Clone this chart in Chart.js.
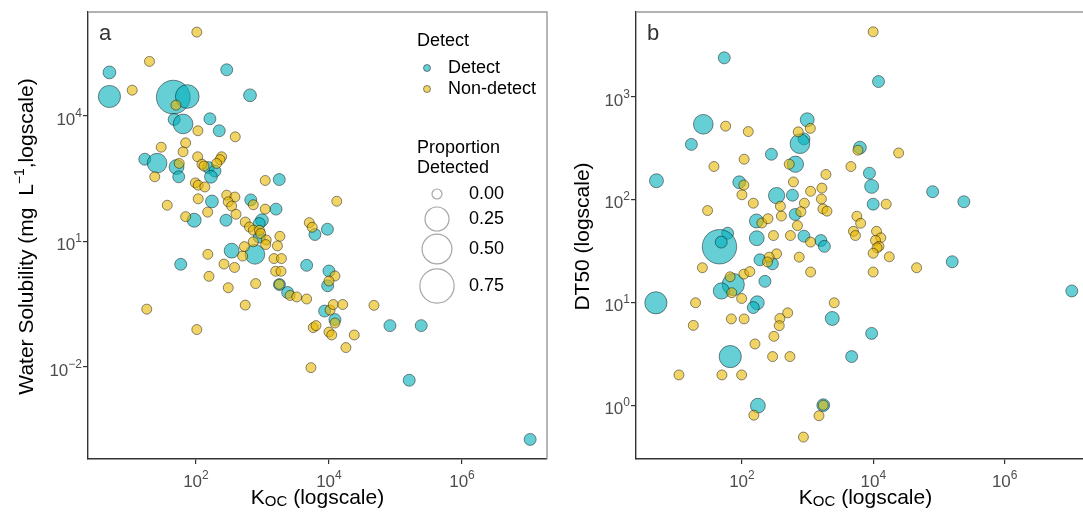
<!DOCTYPE html>
<html>
<head>
<meta charset="utf-8">
<script src="https://cdn.jsdelivr.net/npm/chart.js@4.4.1/dist/chart.umd.min.js"></script>
<style>
  html, body { margin: 0; padding: 0; background: #fff; overflow: hidden; width: 1083px; height: 517px; }
  #chartA { position: absolute; left: 0; top: 0; }
  #chartB { position: absolute; left: 560px; top: 0; }
</style>
</head>
<body>
<canvas id="chartA" width="560" height="517"></canvas>
<canvas id="chartB" width="540" height="517"></canvas>
<script>
// ---- panel a : Koc vs water solubility ----
const kocA_det  = [5.0, 290, 5.0, 45.6, 74, 650, 47, 64, 162, 224, 17, 26, 51, 55, 154, 193, 168, 1790, 174, 667, 1600,
                   94, 283, 982, 895, 895, 344, 771, 59, 1800, 2390, 4620, 10000, 9550, 8600, 12300, 82600, 244000,
                   161000, 10600000, 6150, 9480];
const wsA_det   = [109000, 126000, 29000, 28000, 29000, 31000, 8200, 6400, 8500, 4400, 920, 740, 600, 350, 580, 480, 350,
                   300, 90, 98, 59, 32, 32, 32, 26.7, 12.7, 6.0, 4.9, 2.83, 0.93, 0.60, 2.68, 1.96, 0.87, 0.216, 0.135,
                   0.097, 0.097, 0.0048, 0.000185, 14.6, 19.5];
const propA_det = [0.01, 0.005, 0.19, 0.72, 0.24, 0.01, 0.005, 0.12, 0.005, 0.005, 0.005, 0.12, 0.03, 0.005, 0.005, 0.005,
                   0.01, 0.005, 0.01, 0.005, 0.005, 0.02, 0.005, 0.01, 0.005, 0.005, 0.03, 0.12, 0.005, 0.005, 0.005,
                   0.005, 0.005, 0.005, 0.005, 0.005, 0.005, 0.005, 0.005, 0.005, 0.005, 0.005];
const kocA_non  = [103, 20, 11, 50, 107, 390, 70, 30, 64, 106, 123, 243, 230, 205, 56, 24, 132, 1100, 98, 108, 136, 290,
                   385, 306, 344, 108, 37, 728, 150, 400, 1100, 70, 551, 638, 728, 902, 940, 1140, 728, 1117, 1830, 1680,
                   535, 151, 503, 264, 380, 157, 1490, 1930, 1580, 1900, 790, 306, 1790, 2600, 3270, 4620, 551, 18.2,
                   103, 12300, 10000, 10400, 11600, 16100, 47500, 12300, 5800, 6380, 10000, 11000, 24000, 18000, 5360,
                   13100, 5060, 5600];
const wsA_non   = [1000000, 200000, 41000, 18000, 4400, 3150, 2260, 1780, 1380, 1050, 700, 1050, 900, 730, 730, 350, 630,
                   285, 250, 220, 200, 127, 115, 88, 70, 104, 73, 75, 50, 44.5, 59, 39, 29, 22, 18.6, 18.4, 15.4, 10.8,
                   9.8, 8.4, 13.2, 7.8, 7.5, 4.9, 4.45, 2.87, 2.38, 1.46, 3.88, 3.88, 1.93, 1.93, 0.98, 0.78, 0.94, 0.51,
                   0.47, 0.42, 0.30, 0.24, 0.078, 1.49, 1.13, 0.229, 0.31, 0.31, 0.296, 0.112, 0.087, 0.097, 0.068,
                   0.058, 0.058, 0.029, 0.0096, 91, 28, 21.7];
const xTicksA = [1e2, 1e4, 1e6];
const yTicksA = [1e-2, 1e1, 1e4];

// ---- panel b : Koc vs DT50 ----
const kocB_det  = [53.8, 25.8, 17, 986, 879, 764, 281, 652, 5.0, 91, 337, 588, 647, 166, 60.5, 45.5, 48.4, 168, 879, 1590,
                   1800, 6250, 8730, 9430, 9950, 12000, 80000, 239000, 159000, 10500000, 2370, 9430, 4680, 1730, 188,
                   291, 73.8, 48.7, 224, 4.9, 171, 149, 66.4, 175];
const dtB_det   = [2380, 538, 343, 595, 388, 348, 275, 220, 152, 147, 109, 110, 71.5, 61.8, 47, 34.7, 38.5, 42, 44, 39.9,
                   35, 319, 180, 134, 90, 1400, 119, 95, 24.8, 12.9, 6.97, 4.99, 2.97, 1.0, 25.9, 23.7, 14.9, 12.9, 16,
                   9.9, 9.9, 8.9, 2.97, 0.99];
const propB_det = [0.005, 0.12, 0.005, 0.02, 0.005, 0.12, 0.005, 0.05, 0.02, 0.01, 0.05, 0.005, 0.005, 0.02, 0.005, 0.76,
                   0.005, 0.03, 0.005, 0.005, 0.005, 0.01, 0.005, 0.02, 0.005, 0.005, 0.005, 0.005, 0.005, 0.005, 0.02,
                   0.005, 0.005, 0.01, 0.005, 0.005, 0.19, 0.05, 0.005, 0.19, 0.02, 0.005, 0.19, 0.03];
const kocB_non  = [56.5, 125, 1100, 720, 108, 37.5, 525, 107, 608, 100, 1110, 149, 30, 385, 893, 790, 399, 201, 249, 302,
                   547, 1110, 700, 5840, 4560, 1900, 1650, 1620, 1710, 1970, 5620, 6410, 4980, 5350, 9950, 24300, 15700,
                   11200, 13000, 10800, 12200, 11400, 9950, 17500, 9950, 45600, 1110, 2540, 1490, 1730, 863, 337, 260,
                   245, 745, 25, 66, 70, 107, 132, 19.7, 99, 497, 378, 370, 69, 108, 18.2, 307, 158, 293, 538, 11, 49.6,
                   99, 152];
const dtB_non   = [516, 457, 491, 454, 246, 209, 220, 138, 148, 111, 120, 92, 78, 86, 92, 76, 69, 59, 65, 44.6, 44.6, 38.5,
                   55.7, 301, 209, 175, 129, 101, 81, 77, 68.7, 58.7, 49, 44.6, 4260, 283, 90, 49, 42.4, 40, 35, 33.9, 30,
                   27.7, 19.7, 21.7, 19.7, 9.9, 0.79, 1.0, 0.49, 29.6, 27.5, 24.7, 27.5, 21.7, 17.7, 12.4, 18.8, 19.9,
                   9.9, 10.9, 7.9, 6.97, 5.93, 6.9, 6.9, 5.97, 4.67, 3.94, 2.97, 2.97, 1.97, 1.97, 1.97, 0.80];
const xTicksB = [1e2, 1e4, 1e6];
const yTicksB = [1e0, 1e1, 1e2, 1e3];

const legendColorLabels = ['Detect', 'Non-detect'];
const legendSizeValues = [0.00, 0.25, 0.50, 0.75];

const TEAL = 'rgba(0,175,187,0.6)';
const GOLD = 'rgba(231,184,0,0.6)';
const EDGE = 'rgba(0,0,0,0.45)';
const FONT = '"Liberation Sans", Arial, sans-serif';

function radiusFor(p) {
  return 5 + 14 * Math.sqrt(p);
}

function toPoints(xs, ys, ps) {
  return xs.map((x, i) => ({ x: x, y: ys[i], p: ps ? ps[i] : 0 }));
}

function logAxis(min, max, ticks, size, isX) {
  return {
    type: 'logarithmic',
    min: min,
    max: max,
    afterBuildTicks: s => { s.ticks = ticks.map(v => ({ value: v })); },
    afterFit: s => { if (isX) s.height = size; else s.width = size; },
    ticks: { display: false },
    grid: { drawOnChartArea: false, drawTicks: true, tickLength: 5, color: '#333', lineWidth: 1.2 },
    border: { display: true, color: '#333', width: 1.4 }
  };
}

function drawPow(ctx, value, x, y, align) {
  const exp = Math.round(Math.log10(value));
  const sup = String(exp).replace('-', '\u2212');
  ctx.font = '17px ' + FONT;
  const wb = ctx.measureText('10').width;
  ctx.font = '12px ' + FONT;
  const ws = ctx.measureText(sup).width;
  const left = align === 'right' ? x - wb - ws : x - (wb + ws) / 2;
  ctx.fillStyle = '#4d4d4d';
  ctx.textAlign = 'left';
  ctx.textBaseline = 'alphabetic';
  ctx.font = '17px ' + FONT;
  ctx.fillText('10', left, y);
  ctx.font = '12px ' + FONT;
  ctx.fillText(sup, left + wb, y - 8);
}

// segments: [text, size, dy]
function drawRich(ctx, segs, cx, cy, rotate) {
  ctx.save();
  ctx.translate(cx, cy);
  if (rotate) ctx.rotate(-Math.PI / 2);
  let total = 0;
  segs.forEach(s => { ctx.font = s[1] + 'px ' + FONT; total += ctx.measureText(s[0]).width; });
  let x = -total / 2;
  ctx.fillStyle = '#000';
  ctx.textAlign = 'left';
  ctx.textBaseline = 'middle';
  segs.forEach(s => {
    ctx.font = s[1] + 'px ' + FONT;
    ctx.fillText(s[0], x, s[2]);
    x += ctx.measureText(s[0]).width;
  });
  ctx.restore();
}

function decorPlugin(opts) {
  return {
    id: 'decor',
    afterDraw(chart) {
      const ctx = chart.ctx;
      const a = chart.chartArea;
      const xs = chart.scales.x, ys = chart.scales.y;
      ctx.save();
      // panel border (top, right)
      ctx.strokeStyle = '#999';
      ctx.lineWidth = 1.4;
      ctx.beginPath();
      ctx.moveTo(a.left, a.top);
      ctx.lineTo(a.right, a.top);
      ctx.lineTo(a.right, a.bottom);
      ctx.stroke();
      // tick labels
      opts.xTicks.forEach(v => drawPow(ctx, v, xs.getPixelForValue(v), a.bottom + 28, 'center'));
      opts.yTicks.forEach(v => drawPow(ctx, v, a.left - 6, ys.getPixelForValue(v) + 9, 'right'));
      // axis titles
      drawRich(ctx, [['K', 21, 0], ['OC', 15, 4], [' (logscale)', 21, 0]], (a.left + a.right) / 2, 498, false);
      drawRich(ctx, opts.yTitle, opts.yTitleX, (a.top + a.bottom) / 2 + 1, true);
      // panel letter
      ctx.fillStyle = '#333';
      ctx.font = '22px ' + FONT;
      ctx.textAlign = 'left';
      ctx.textBaseline = 'alphabetic';
      ctx.fillText(opts.letter, a.left + 11, a.top + 28);
      if (opts.legend) drawLegend(ctx);
      ctx.restore();
    }
  };
}

function drawLegend(ctx) {
  ctx.fillStyle = '#000';
  ctx.textAlign = 'left';
  ctx.textBaseline = 'middle';
  ctx.font = '18px ' + FONT;
  ctx.fillText('Detect', 417, 41);
  const cols = [TEAL, GOLD];
  legendColorLabels.forEach((lab, i) => {
    const y = 68 + i * 21;
    ctx.beginPath();
    ctx.arc(427, y, 3.5, 0, Math.PI * 2);
    ctx.fillStyle = cols[i];
    ctx.fill();
    ctx.strokeStyle = EDGE;
    ctx.lineWidth = 1;
    ctx.stroke();
    ctx.fillStyle = '#000';
    ctx.fillText(lab, 448, y);
  });
  ctx.fillText('Proportion', 417, 148);
  ctx.fillText('Detected', 417, 168);
  const ysz = [194, 219, 249, 286];
  legendSizeValues.forEach((p, i) => {
    ctx.beginPath();
    ctx.arc(437, ysz[i], radiusFor(p), 0, Math.PI * 2);
    ctx.strokeStyle = 'rgba(0,0,0,0.35)';
    ctx.lineWidth = 1.2;
    ctx.stroke();
    ctx.fillStyle = '#000';
    ctx.fillText(p.toFixed(2), 469, ysz[i]);
  });
}

function makeChart(id, det, non, scales, padRight, yWidth, decor) {
  return new Chart(document.getElementById(id), {
    type: 'scatter',
    data: {
      datasets: [
        { label: 'Non-detect', data: non, backgroundColor: GOLD, borderColor: EDGE, borderWidth: 1,
          pointRadius: 5 },
        { label: 'Detect', data: det, backgroundColor: TEAL, borderColor: EDGE, borderWidth: 1,
          pointRadius: c => radiusFor(c.raw.p) }
      ]
    },
    options: {
      responsive: false,
      animation: false,
      events: [],
      layout: { padding: { top: 12, right: padRight, left: 0, bottom: 0 }, autoPadding: false },
      plugins: { legend: { display: false }, tooltip: { enabled: false } },
      scales: scales
    },
    plugins: [decor]
  });
}

makeChart('chartA',
  toPoints(kocA_det, wsA_det, propA_det),
  toPoints(kocA_non, wsA_non),
  { x: logAxis(2.38, 1.9e7, xTicksA, 58, true), y: logAxis(6.3e-5, 3.03e6, yTicksA, 88, false) },
  13, 88,
  decorPlugin({ xTicks: xTicksA, yTicks: yTicksA, letter: 'a', legend: true, yTitleX: 27,
    yTitle: [['Water Solubility (mg  L', 21, 0], ['\u22121', 14, -7], [',logscale)', 21, 0]] }));

makeChart('chartB',
  toPoints(kocB_det, dtB_det, propB_det),
  toPoints(kocB_non, dtB_non),
  { x: logAxis(2.44, 2.37e7, xTicksB, 58, true), y: logAxis(0.316, 6640, yTicksB, 76, false) },
  5, 76,
  decorPlugin({ xTicks: xTicksB, yTicks: yTicksB, letter: 'b', legend: false, yTitleX: 23,
    yTitle: [['DT50 (logscale)', 21, 0]] }));
</script>
</body>
</html>
